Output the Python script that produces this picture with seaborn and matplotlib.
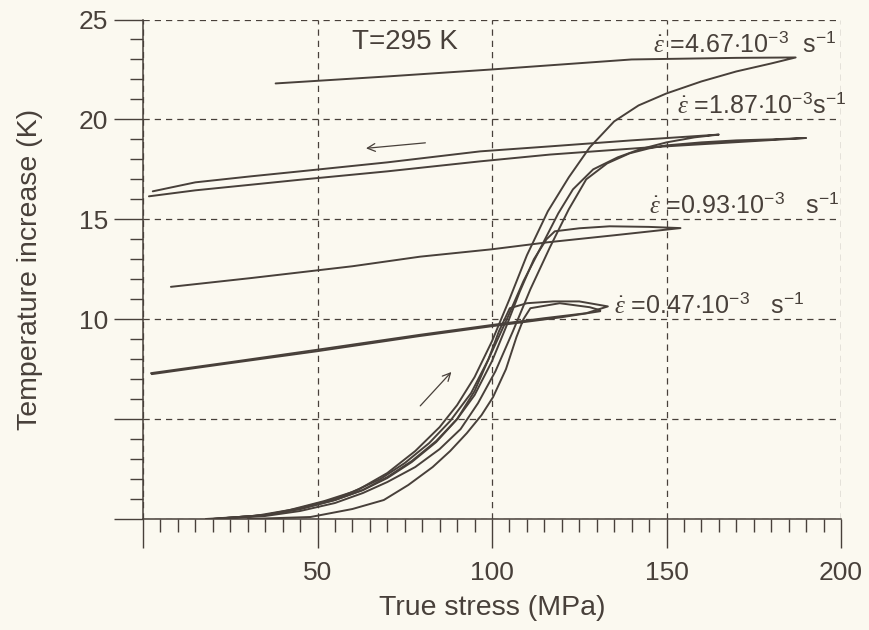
import numpy as np
import pandas as pd
import seaborn as sns
import matplotlib
matplotlib.use("Agg")
import matplotlib.pyplot as plt
from matplotlib.ticker import MultipleLocator

# ---- data (stress in MPa, temperature rise in K) ----
# 4.67e-3 1/s
stress_467_load = [20, 35, 45, 55, 62, 70, 78, 85, 90, 95, 100, 105, 110, 116, 122, 128, 135, 142, 150, 160, 170, 180, 187]
temp_467_load = [0, 0.2, 0.55, 1.0, 1.5, 2.3, 3.4, 4.6, 5.7, 7.1, 8.9, 11.0, 13.2, 15.4, 17.1, 18.6, 19.9, 20.7, 21.3, 21.9, 22.4, 22.8, 23.1]
stress_467_unload = [187, 170, 140, 100, 70, 38]
temp_467_unload = [23.1, 23.08, 23.0, 22.5, 22.15, 21.8]

# 1.87e-3 1/s, first run (tip at 165 MPa)
stress_187a_load = [18, 32, 42, 52, 60, 68, 75, 82, 88, 94, 99, 104, 109, 114.6, 119, 123.2, 129, 136, 142.3, 150, 158, 165]
temp_187a_load = [0, 0.15, 0.45, 0.9, 1.35, 2.0, 2.8, 3.8, 4.9, 6.3, 8.0, 9.9, 11.9, 13.8, 15.3, 16.5, 17.5, 18.1, 18.5, 18.85, 19.1, 19.24]
stress_187a_unload = [165, 140, 116.6, 96.6, 70, 45, 30.9, 15, 2.8]
temp_187a_unload = [19.24, 18.95, 18.65, 18.4, 17.85, 17.4, 17.15, 16.85, 16.4]

# 1.87e-3 1/s, second run (tip at 190 MPa)
stress_187b_load = [22, 35, 45, 55, 63, 70, 78, 85, 91, 96, 101, 106, 111, 116.6, 122, 127, 133, 139.4, 145, 150, 160, 170, 180, 190]
temp_187b_load = [0, 0.15, 0.4, 0.8, 1.3, 1.85, 2.6, 3.5, 4.5, 5.8, 7.4, 9.4, 11.5, 13.6, 15.5, 17.0, 17.8, 18.3, 18.55, 18.7, 18.85, 18.95, 19.0, 19.07]
stress_187b_unload = [190, 145, 116.6, 96.6, 70, 45, 30.9, 15, 1.7]
temp_187b_unload = [19.07, 18.6, 18.24, 17.9, 17.4, 16.98, 16.73, 16.45, 16.15]

# 0.93e-3 1/s
stress_093_load = [20, 35, 45, 55, 63, 70, 77, 84, 90, 95, 100, 104, 108, 112, 115.6, 118, 125, 133.7, 145, 154]
temp_093_load = [0, 0.2, 0.5, 0.95, 1.45, 2.1, 2.9, 3.9, 5.0, 6.2, 7.9, 9.6, 11.4, 13.0, 14.0, 14.4, 14.55, 14.65, 14.62, 14.56]
stress_093_unload = [154, 135, 116, 100, 79.4, 60, 31, 8]
temp_093_unload = [14.56, 14.2, 13.85, 13.5, 13.13, 12.65, 12.06, 11.62]

# 0.47e-3 1/s, two cycles
stress_047a_load = [20, 35, 45, 55, 63, 70, 77, 84, 90, 95, 99, 102, 105.1, 110, 117.5, 125, 133.2]
temp_047a_load = [0, 0.2, 0.5, 0.95, 1.45, 2.05, 2.85, 3.85, 5.0, 6.4, 8.0, 9.4, 10.55, 10.8, 10.89, 10.89, 10.64]
stress_047a_unload = [133.2, 127, 115, 100.4, 79.4, 49.9, 25, 2.3]
temp_047a_unload = [10.64, 10.3, 10.05, 9.72, 9.22, 8.47, 7.85, 7.3]

stress_047b_load = [30, 48, 60, 69, 76, 83, 88, 92.8, 97, 100.3, 104, 107, 109, 111, 119.4, 128, 131]
temp_047b_load = [0, 0.1, 0.5, 0.95, 1.7, 2.6, 3.4, 4.3, 5.2, 6.1, 7.5, 9.1, 10.0, 10.55, 10.8, 10.6, 10.45]
stress_047b_unload = [131, 120, 100, 79, 50, 25, 2.5]
temp_047b_unload = [10.4, 10.1, 9.65, 9.15, 8.4, 7.8, 7.25]

rate_labels = ['4.67', '1.87', '0.93', '0.47']

# build one long table, one "run" id per closed loop
runs = {
    '467': (stress_467_load + stress_467_unload, temp_467_load + temp_467_unload),
    '187a': (stress_187a_load + stress_187a_unload, temp_187a_load + temp_187a_unload),
    '187b': (stress_187b_load + stress_187b_unload, temp_187b_load + temp_187b_unload),
    '093': (stress_093_load + stress_093_unload, temp_093_load + temp_093_unload),
    '047a': (stress_047a_load + stress_047a_unload, temp_047a_load + temp_047a_unload),
    '047b': (stress_047b_load + stress_047b_unload, temp_047b_load + temp_047b_unload),
}
frames = []
for name, (s, t) in runs.items():
    frames.append(pd.DataFrame({'stress': s, 'temp': t, 'run': name, 'order': range(len(s))}))
df = pd.concat(frames, ignore_index=True)

ink = '#48403a'
paper = '#fbf9f0'

sns.set_style('white')
plt.rcParams['font.family'] = ['Liberation Sans', 'DejaVu Sans']
plt.rcParams['mathtext.fontset'] = 'custom'
plt.rcParams['mathtext.rm'] = 'Liberation Sans'
plt.rcParams['mathtext.it'] = 'Liberation Serif:italic'

fig = plt.figure(figsize=(8.69, 6.30), dpi=100, facecolor=paper)
ax = fig.add_axes([143 / 869, 1 - 519 / 630, (841 - 143) / 869, (519 - 19.5) / 630])
ax.set_facecolor(paper)

sns.lineplot(data=df, x='stress', y='temp', units='run', estimator=None, sort=False,
             color=ink, linewidth=1.4, ax=ax, legend=False)

ax.set_xlim(0, 200)
ax.set_ylim(0, 25)

ax.xaxis.set_major_locator(MultipleLocator(50))
ax.xaxis.set_minor_locator(MultipleLocator(5))
ax.yaxis.set_major_locator(MultipleLocator(5))
ax.yaxis.set_minor_locator(MultipleLocator(1))
ax.set_xticks([0, 50, 100, 150, 200])
ax.set_xticklabels(['', '50', '100', '150', '200'])
ax.set_yticks([0, 5, 10, 15, 20, 25])
ax.set_yticklabels(['', '', '10', '15', '20', '25'])

ax.tick_params(which='major', direction='out', length=21, width=1, color=ink,
               labelsize=19, labelcolor=ink)
ax.tick_params(axis='x', which='major', pad=9)
ax.tick_params(axis='y', which='major', pad=4)
ax.tick_params(which='minor', direction='out', length=9.5, width=1, color=ink)
ax.tick_params(axis='x', which='both', bottom=True)
ax.tick_params(axis='y', which='both', left=True)

ax.grid(True, which='major', linestyle=(0, (5, 4)), linewidth=0.9, color=ink)
for side in ['top', 'right']:
    ax.spines[side].set_visible(False)
for side in ['left', 'bottom']:
    ax.spines[side].set_color(ink)
    ax.spines[side].set_linewidth(1.1)

ax.set_xlabel('True stress (MPa)', fontsize=20.5, color=ink)
ax.set_ylabel('Temperature increase (K)', fontsize=20.5, color=ink)
ax.xaxis.set_label_coords(0.5, -0.152)
ax.yaxis.set_label_coords(-0.143, 0.5)

ax.text(60, 23.5, 'T=295 K', fontsize=20, color=ink, va='baseline')

label_pos = [(146, 23.35), (152.9, 20.3), (145.1, 15.33), (135.1, 10.32)]
label_gap = ['  ', '', '   ', '   ']
for rate, (lx, ly), gap in zip(rate_labels, label_pos, label_gap):
    ax.text(lx, ly, r'$\dot{\varepsilon}$ =' + rate + r'$\cdot$10$^{-3}$' + gap + r's$^{-1}$',
            fontsize=18, color=ink, va='baseline')

arrow_kw = dict(arrowstyle='->', color=ink, lw=0.9, mutation_scale=14)
ax.annotate('', xy=(63.1, 18.54), xytext=(81.7, 18.84), arrowprops=arrow_kw)
ax.annotate('', xy=(88.9, 7.46), xytext=(78.9, 5.56), arrowprops=arrow_kw)

fig.savefig('out.png', dpi=100, facecolor=paper)
